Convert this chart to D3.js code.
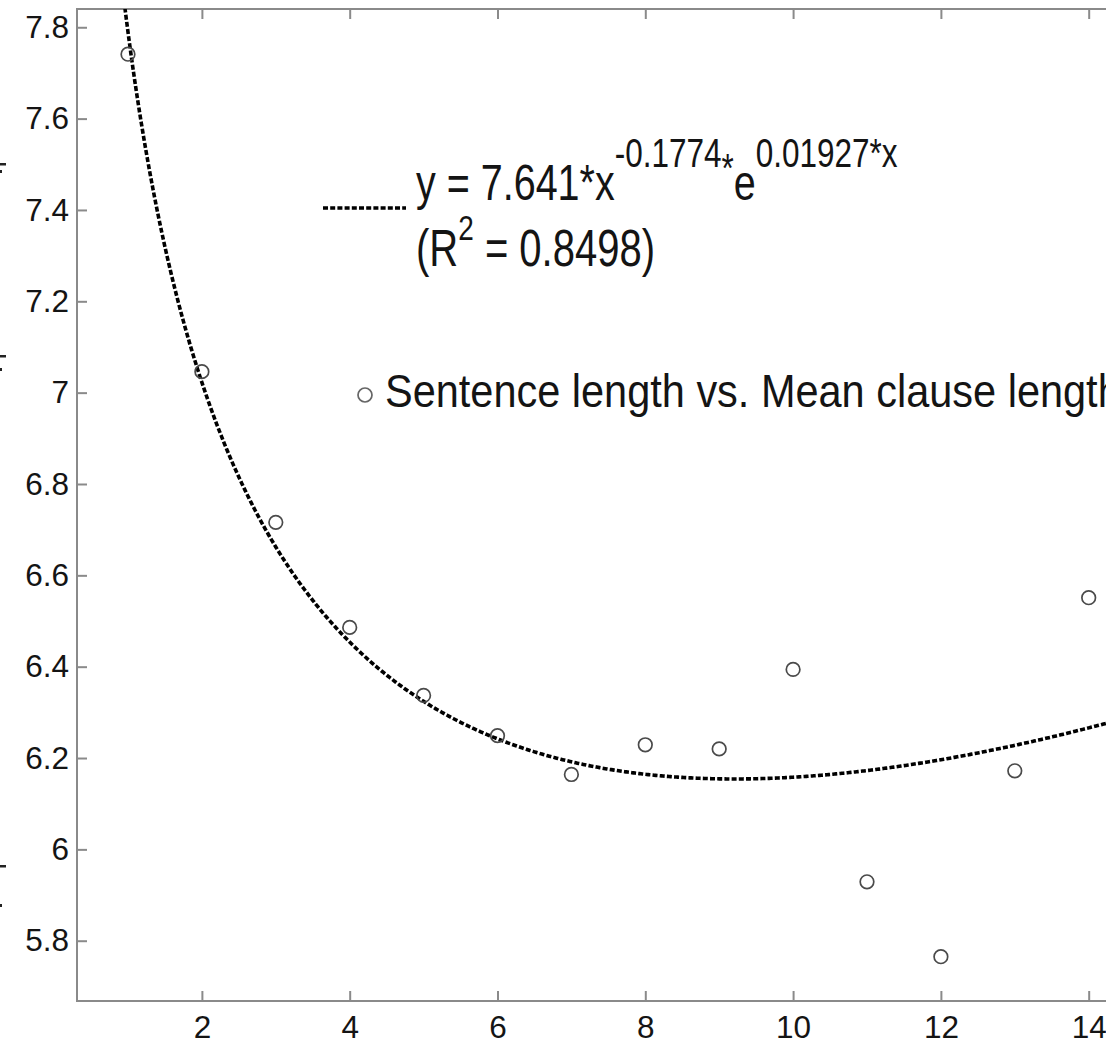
<!DOCTYPE html>
<html>
<head>
<meta charset="utf-8">
<script src="https://cdn.jsdelivr.net/npm/d3@7"></script>
<style>
  html, body { margin: 0; padding: 0; background: #fff; }
  svg { display: block; font-family: "Liberation Sans", Arial, Helvetica, sans-serif; }
</style>
</head>
<body>
<div id="chart"></div>
<script>
// observed points: sentence length (x) vs mean clause length (y)
const sentenceLength = [1, 2, 3, 4, 5, 6, 7, 8, 9, 10, 11, 12, 13, 14];
const meanClauseLength = [7.741, 7.046, 6.716, 6.486, 6.337, 6.249, 6.164, 6.229, 6.220, 6.394, 5.929, 5.765, 6.172, 6.551];

// fitted model y = a * x^b * e^(c*x), as printed in the legend
const fitA = 7.641;
const fitB = -0.1774;
const fitC = 0.01927;
const fitR2 = "0.8498";

const xTicks = [2, 4, 6, 8, 10, 12, 14];
const yTicks = [5.8, 6, 6.2, 6.4, 6.6, 6.8, 7, 7.2, 7.4, 7.6, 7.8];
const seriesLabel = "Sentence length vs. Mean clause length";

document.addEventListener('DOMContentLoaded', function () {
    let W = 1106, H = 1045;
    let svg = d3.select('#chart').append('svg')
        .attr('width', W)
        .attr('height', H);

    let left = 77, top = 9, bottom = 1001;
    let x = d3.scaleLinear().domain([0.31, 14.5]).range([left, left + 73.9 * (14.5 - 0.31)]);
    let y = d3.scaleLinear().domain([5.668, 7.84]).range([bottom, top]);
    let right = x.range()[1];

    let axisColor = '#8a8a8a';
    let textColor = '#141414';

    // stretch a text vertically around its baseline (the source glyphs are tall and narrow)
    function tall(sel, by, k) {
        sel.attr('transform', `translate(0,${by}) scale(1,${k}) translate(0,${-by})`);
    }

    svg.append('clipPath').attr('id', 'plotClip')
        .append('rect')
        .attr('x', left).attr('y', top)
        .attr('width', right - left).attr('height', bottom - top);

    // box
    svg.append('rect')
        .attr('x', left).attr('y', top)
        .attr('width', right - left).attr('height', bottom - top)
        .attr('fill', 'none')
        .attr('stroke', axisColor)
        .attr('stroke-width', 2);

    // axes with inward ticks
    let fmt = d => String(+d.toFixed(1));
    let gx = svg.append('g').attr('transform', `translate(0,${bottom})`)
        .call(d3.axisBottom(x).tickValues(xTicks).tickSizeInner(-10).tickSizeOuter(0).tickPadding(15).tickFormat(fmt));
    let gxTop = svg.append('g').attr('transform', `translate(0,${top})`)
        .call(d3.axisTop(x).tickValues(xTicks).tickSizeInner(-10).tickSizeOuter(0).tickFormat(''));
    let gy = svg.append('g').attr('transform', `translate(${left},0)`)
        .call(d3.axisLeft(y).tickValues(yTicks).tickSizeInner(-10).tickSizeOuter(0).tickPadding(8).tickFormat(fmt));

    [gx, gxTop, gy].forEach(g => {
        g.select('.domain').remove();
        g.selectAll('.tick line').attr('stroke', axisColor).attr('stroke-width', 2);
        g.selectAll('.tick text')
            .attr('fill', textColor)
            .attr('font-size', 31.5)
            .attr('font-family', '"Liberation Sans", Arial, sans-serif');
    });

    let plot = svg.append('g').attr('clip-path', 'url(#plotClip)');

    // fitted curve
    let fit = v => fitA * Math.pow(v, fitB) * Math.exp(fitC * v);
    let curveX = d3.range(0.9, 14.6, 0.02);
    let line = d3.line().x(d => x(d)).y(d => y(fit(d)));
    plot.append('path')
        .attr('d', line(curveX))
        .attr('fill', 'none')
        .attr('stroke', '#000')
        .attr('stroke-width', 3.6)
        .attr('stroke-dasharray', '5,2.2');

    // data points
    plot.selectAll('circle.pt')
        .data(sentenceLength.map((d, i) => [d, meanClauseLength[i]]))
        .join('circle')
        .attr('class', 'pt')
        .attr('cx', d => x(d[0]))
        .attr('cy', d => y(d[1]))
        .attr('r', 6.8)
        .attr('fill', 'none')
        .attr('stroke', '#4a4a4a')
        .attr('stroke-width', 1.7);

    // legend: fit line
    let lg = svg.append('g');
    lg.append('line')
        .attr('x1', 323).attr('x2', 406)
        .attr('y1', 208).attr('y2', 208)
        .attr('stroke', '#000')
        .attr('stroke-width', 3.6)
        .attr('stroke-dasharray', '5,2.2');

    let eq = lg.append('text')
        .attr('x', 416).attr('y', 200)
        .attr('font-size', 39.5)
        .attr('fill', textColor);
    eq.append('tspan').text('y = ' + fitA + '*x');
    eq.append('tspan').attr('dy', -26).attr('font-size', 31.5).text(String(fitB));
    eq.append('tspan').attr('dy', 12).attr('font-size', 31.5).text('*');
    eq.append('tspan').attr('dy', 14).text('e');
    eq.append('tspan').attr('dy', -26).attr('font-size', 31.5).text(fitC + '*x');
    tall(eq, 200, 1.28);

    let r2 = lg.append('text')
        .attr('x', 416).attr('y', 266)
        .attr('font-size', 40)
        .attr('fill', textColor);
    r2.append('tspan').text('(R');
    r2.append('tspan').attr('dy', -20).attr('font-size', 28).text('2');
    r2.append('tspan').attr('dy', 20).text(' = ' + fitR2 + ')');
    tall(r2, 266, 1.28);

    // legend: points
    lg.append('circle')
        .attr('cx', 365).attr('cy', 395).attr('r', 7)
        .attr('fill', 'none').attr('stroke', '#666').attr('stroke-width', 1.7);
    let st = lg.append('text')
        .attr('x', 385).attr('y', 407)
        .attr('font-size', 41.5)
        .attr('fill', textColor)
        .text(seriesLabel);
    tall(st, 407, 1.1);

    // fragments of a neighbouring, cut-off label at the left edge
    [[163, 6, 2.5], [170, 2, 3], [355, 6, 2.5], [368, 2, 3], [865, 6, 2.5], [904, 2, 3]].forEach(f => {
        svg.append('rect').attr('x', 0).attr('y', f[0])
            .attr('width', f[1]).attr('height', f[2]).attr('fill', '#222');
    });
});
</script>
</body>
</html>
